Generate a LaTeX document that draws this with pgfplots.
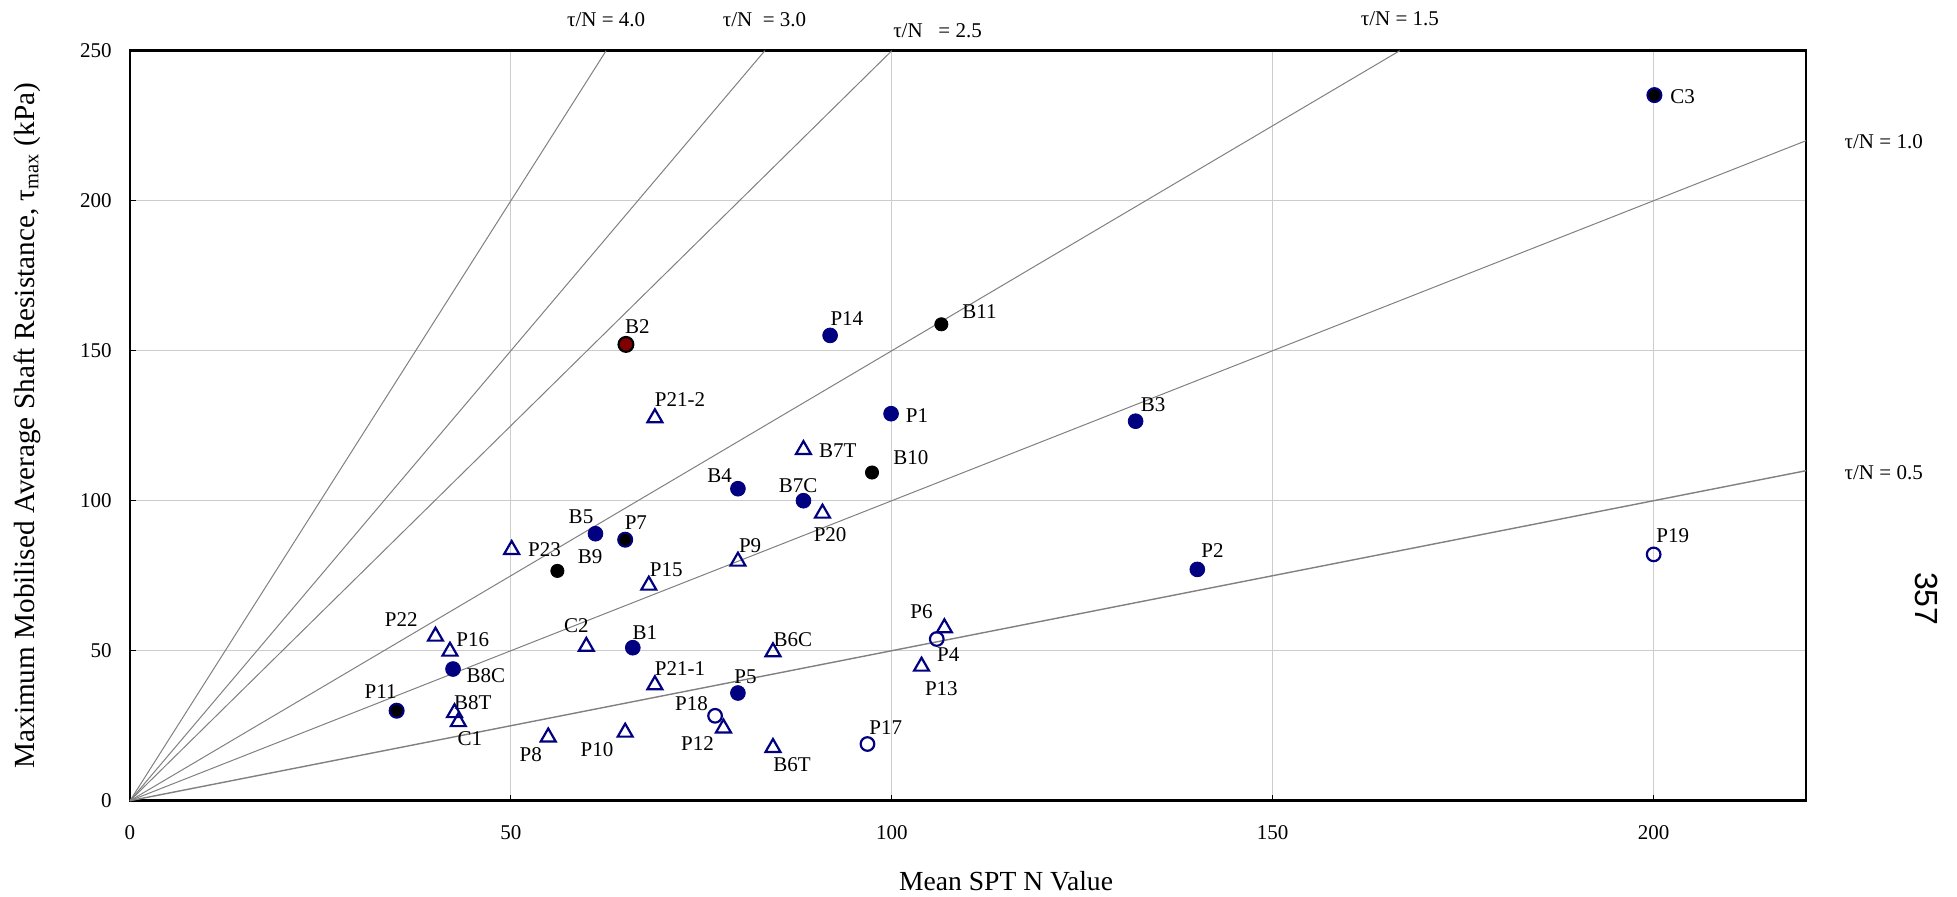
\documentclass[border=0pt]{standalone}
\usepackage{fontspec}
\setmainfont{Liberation Serif}
\newfontfamily\pagefont{Liberation Sans}
\usepackage{pgfplots}
\pgfplotsset{compat=1.18}
\definecolor{navy}{RGB}{0,0,128}
\definecolor{brickred}{RGB}{128,0,0}
\tikzset{lab/.style={font=\fontsize{10.5}{12}\selectfont, inner sep=0pt}}

\begin{document}
\begin{tikzpicture}
\begin{axis}[
    name=ax,
    scale only axis,
    width=838pt, height=375pt,
    xmin=0, xmax=220, ymin=0, ymax=250,
    xtick={0,50,100,150,200},
    ytick={0,50,100,150,200,250},
    grid=major,
    major grid style={gray!40, line width=0.5pt},
    axis line style={line width=1.3pt},
    tick align=inside,
    tick pos=left,
    major tick length=3pt,
    tick style={black, line width=0.5pt},
    /pgf/number format/assume math mode=true,
    ticklabel style={font=\fontsize{10.5}{12}\selectfont},
    xticklabel style={anchor=center, yshift=-16pt},
    yticklabel style={anchor=east, inner sep=0pt, xshift=-9pt},
    xlabel={Mean SPT N Value},
    ylabel={Maximum Mobilised Average Shaft Resistance, τ\textsubscript{max} (kPa)},
    xlabel style={font=\fontsize{13.8}{16}\selectfont, at={(axis description cs:0.5227,-0.1067)}, anchor=center},
    ylabel style={font=\fontsize{14.6}{17}\selectfont, at={(axis description cs:-0.0615,0.5)}, anchor=center},
    clip=false,
]

% tau/N reference lines
\addplot[gray, line width=0.5pt] coordinates {(0,0) (62.5,250)};
\addplot[gray, line width=0.5pt] coordinates {(0,0) (83.33,250)};
\addplot[gray, line width=0.5pt] coordinates {(0,0) (100,250)};
\addplot[gray, line width=0.5pt] coordinates {(0,0) (166.67,250)};
\addplot[gray, line width=0.5pt] coordinates {(0,0) (220,220)};
\addplot[gray, line width=0.7pt] coordinates {(0,0) (220,110)};

% blue filled
\addplot[only marks, mark=*, mark size=3.7pt, draw=navy, fill=navy] coordinates {
(79.8,104.0) (88.4,100.0) (61.1,89.0) (66.0,51.0) (42.4,43.9) (79.8,35.9)
(91.9,155.1) (99.9,129.0) (132.0,126.5) (140.1,77.1)};
% black
\addplot[only marks, mark=*, mark size=3.3pt, draw=black, fill=black] coordinates {
(56.1,76.6) (97.4,109.4) (106.5,158.8)};
% black with blue rim
\addplot[only marks, mark=*, mark size=3.5pt, mark options={draw=navy, fill=black, line width=1pt}] coordinates {
(65.0,87.0) (35.0,30.0) (200.1,235.2)};
% red
\addplot[only marks, mark=*, mark size=3.7pt, mark options={draw=black, fill=brickred, line width=1.1pt}] coordinates {
(65.1,152.1)};
% open circles
\addplot[only marks, mark=o, mark size=3.4pt, mark options={draw=navy, fill=white, line width=1.1pt}] coordinates {
(105.9,53.9) (76.8,28.3) (96.8,18.9) (200.0,82.1)};
% open triangles
\addplot[only marks, mark=triangle, mark size=4.3pt, mark options={draw=navy, fill=white, line width=1.1pt}] coordinates {
(88.4,117.0) (90.9,95.8) (50.1,83.7) (79.8,79.8) (68.1,71.8) (40.1,54.8)
(42.0,49.8) (59.9,51.4) (84.4,49.6) (106.9,57.6) (103.9,44.8) (68.9,38.6)
(42.6,29.3) (43.1,26.3) (77.9,24.2) (54.9,21.2) (65.0,22.8) (84.4,17.7)
(68.9,127.6)};

% point labels
\node[lab] at (axis cs:92.9,116.6) {B7T};
\node[lab] at (axis cs:102.5,114.4) {B10};
\node[lab] at (axis cs:77.4,108.2) {B4};
\node[lab] at (axis cs:87.7,104.9) {B7C};
\node[lab] at (axis cs:91.9,88.8) {P20};
\node[lab] at (axis cs:59.2,94.7) {B5};
\node[lab] at (axis cs:66.4,92.8) {P7};
\node[lab] at (axis cs:54.4,83.7) {P23};
\node[lab] at (axis cs:60.4,81.4) {B9};
\node[lab] at (axis cs:81.4,84.9) {P9};
\node[lab] at (axis cs:70.4,77.0) {P15};
\node[lab] at (axis cs:35.6,60.4) {P22};
\node[lab] at (axis cs:45.0,53.7) {P16};
\node[lab] at (axis cs:58.6,58.4) {C2};
\node[lab] at (axis cs:67.6,56.2) {B1};
\node[lab] at (axis cs:87.0,53.7) {B6C};
\node[lab] at (axis cs:103.9,62.9) {P6};
\node[lab] at (axis cs:107.4,48.7) {P4};
\node[lab] at (axis cs:106.5,37.2) {P13};
\node[lab] at (axis cs:46.7,41.8) {B8C};
\node[lab] at (axis cs:72.2,44.2) {P21-1};
\node[lab] at (axis cs:80.8,41.4) {P5};
\node[lab] at (axis cs:32.9,36.4) {P11};
\node[lab] at (axis cs:45.0,32.7) {B8T};
\node[lab] at (axis cs:44.6,20.6) {C1};
\node[lab] at (axis cs:73.7,32.5) {P18};
\node[lab] at (axis cs:74.5,19.2) {P12};
\node[lab] at (axis cs:52.6,15.5) {P8};
\node[lab] at (axis cs:61.3,16.9) {P10};
\node[lab] at (axis cs:99.2,24.5) {P17};
\node[lab] at (axis cs:86.9,11.9) {B6T};
\node[lab] at (axis cs:66.6,158.2) {B2};
\node[lab] at (axis cs:94.1,160.7) {P14};
\node[lab] at (axis cs:111.5,163.2) {B11};
\node[lab] at (axis cs:72.2,133.7) {P21-2};
\node[lab] at (axis cs:103.3,128.5) {P1};
\node[lab] at (axis cs:203.8,234.7) {C3};
\node[lab] at (axis cs:134.3,132.1) {B3};
\node[lab] at (axis cs:142.1,83.4) {P2};
\node[lab] at (axis cs:202.5,88.5) {P19};

% line labels
\node[lab] at (axis cs:62.5,260.5) {τ/N = 4.0};
\node[lab] at (axis cs:83.3,260.5) {τ/N\ \ = 3.0};
\node[lab] at (axis cs:106.0,256.8) {τ/N\ \ \ = 2.5};
\node[lab] at (axis cs:166.7,260.5) {τ/N = 1.5};
\node[lab] at (axis cs:230.2,219.6) {τ/N = 1.0};
\node[lab] at (axis cs:230.2,109.4) {τ/N = 0.5};
\node[inner sep=0pt, rotate=-90, font=\pagefont\fontsize{16}{18}\selectfont] at (axis cs:235.8,67.3) {357};
\end{axis}
\pgfresetboundingbox
\path[use as bounding box] ([xshift=-65pt,yshift=-47.65pt]ax.south west) rectangle ++(978.5pt,448pt);
\end{tikzpicture}
\end{document}
